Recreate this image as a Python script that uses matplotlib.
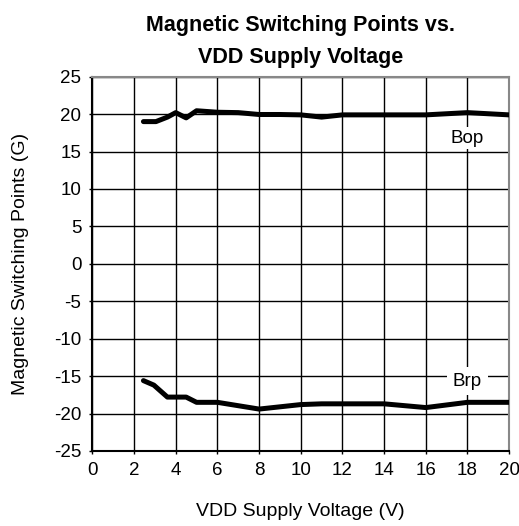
import matplotlib.pyplot as plt

plt.rcParams['font.family'] = ['Liberation Sans', 'DejaVu Sans']
plt.rcParams['axes.unicode_minus'] = False

# data
vdd_bop = [2.45, 3.05, 3.6, 4.0, 4.5, 5.0, 6.0, 7.0, 8.0, 9.0, 10.0, 11.0, 12.0, 14.0, 16.0, 18.0, 20.0]
bop = [19.0, 19.0, 19.6, 20.2, 19.5, 20.45, 20.25, 20.2, 19.95, 19.95, 19.9, 19.6, 19.9, 19.9, 19.9, 20.2, 19.9]

vdd_brp = [2.45, 2.95, 3.6, 4.5, 5.0, 6.0, 8.0, 10.0, 11.0, 14.0, 16.0, 18.0, 20.0]
brp = [-15.6, -16.2, -17.8, -17.8, -18.5, -18.5, -19.4, -18.8, -18.7, -18.7, -19.2, -18.5, -18.5]

x_ticks = list(range(0, 21, 2))
y_ticks = list(range(-25, 26, 5))

fig = plt.figure(figsize=(5.19, 5.26), dpi=100)
ax = fig.add_axes([0.178, 0.1426, 0.803, 0.7116])

ax.plot(vdd_bop, bop, color='black', lw=3.6, solid_capstyle='round', zorder=3)
ax.plot(vdd_brp, brp, color='black', lw=3.6, solid_capstyle='round', zorder=3)

ax.set_xlim(0, 20)
ax.set_ylim(-25, 25)
ax.set_xticks(x_ticks)
ax.set_yticks(y_ticks)
ax.grid(True, color='black', lw=1.0)
ax.set_axisbelow(True)
ax.tick_params(labelsize=13.5, length=2, width=1, pad=6)

for s in ['left', 'bottom']:
    ax.spines[s].set_color('black')
    ax.spines[s].set_linewidth(1.5)
for s in ['top', 'right']:
    ax.spines[s].set_color('#888888')
    ax.spines[s].set_linewidth(1.5)

ax.text(18, 16.8, 'Bop', fontsize=13.5, ha='center', va='center',
        bbox=dict(facecolor='white', edgecolor='none', pad=2), zorder=4)
ax.text(18, -15.7, 'Brp', fontsize=13.5, ha='center', va='center',
        bbox=dict(facecolor='white', edgecolor='none', pad=4), zorder=4)

ax.set_xlabel('VDD Supply Voltage (V)', fontsize=14, labelpad=17)
ax.set_ylabel('Magnetic Switching Points (G)', fontsize=14, labelpad=18)
ax.set_title('Magnetic Switching Points vs.\nVDD Supply Voltage', fontsize=15.5,
             fontweight='bold', linespacing=1.7, pad=10)

fig.savefig('out.png', dpi=100)
